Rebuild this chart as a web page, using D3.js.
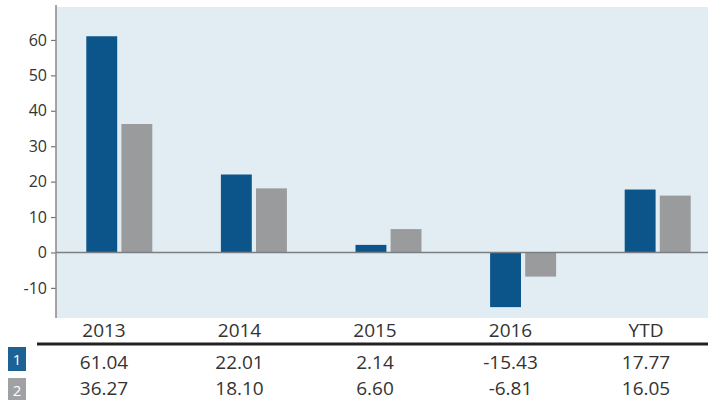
<!DOCTYPE html>
<html>
<head>
<meta charset="utf-8">
<script src="https://cdn.jsdelivr.net/npm/d3@7"></script>
<style>
  body { margin: 0; background: #fff; }
  svg text { font-family: "Open Sans", sans-serif; fill: #333; }
</style>
</head>
<body>
<div id="chart"></div>
<script>
// data
var categories = ["2013", "2014", "2015", "2016", "YTD"]
var seriesNames = ["1", "2"]
var series1 = [61.04, 22.01, 2.14, -15.43, 17.77]
var series2 = [36.27, 18.10, 6.60, -6.81, 16.05]
var yTicks = [-10, 0, 10, 20, 30, 40, 50, 60]

var colors = ["#0c558a", "#9a9b9d"]
var badgeColors = ["#1d6295", "#a0a1a3"]

var width = 708, height = 400
var plotLeft = 56, plotTop = 7, plotBottom = 318

// plain hyphen for negatives, like the original
var fmt = function(v) { return d3.format(".2f")(v).replace("\u2212", "-") }

var svg = d3.select("#chart").append("svg")
  .attr("width", width)
  .attr("height", height)

// plot background
svg.append("rect")
  .attr("x", plotLeft)
  .attr("y", plotTop)
  .attr("width", width - plotLeft)
  .attr("height", plotBottom - plotTop)
  .attr("fill", "#e2ecf3")

var y = d3.scaleLinear()
  .domain([-18.5, 69.3])
  .range([plotBottom, plotTop])

var x = d3.scaleBand()
  .domain(categories)
  .range([52, 725])

var bw = x.bandwidth()
var x1 = d3.scaleBand()
  .domain(seriesNames)
  .range([bw / 2 - 33, bw / 2 + 33])
  .paddingInner(0.12)

var rows = categories.map(function(c, i) {
  return {cat: c, values: [series1[i], series2[i]]}
})

var groups = svg.selectAll(".grp")
  .data(rows)
  .enter().append("g")
  .attr("class", "grp")
  .attr("transform", function(d) { return "translate(" + x(d.cat) + ",0)" })

groups.selectAll("rect")
  .data(function(d) { return d.values.map(function(v, j) { return {v: v, s: seriesNames[j], j: j} }) })
  .enter().append("rect")
  .attr("x", function(d) { return x1(d.s) })
  .attr("width", x1.bandwidth())
  .attr("y", function(d) { return y(Math.max(0, d.v)) })
  .attr("height", function(d) { return Math.abs(y(d.v) - y(0)) })
  .attr("fill", function(d) { return colors[d.j] })

// zero line
svg.append("line")
  .attr("x1", plotLeft).attr("x2", width)
  .attr("y1", y(0)).attr("y2", y(0))
  .attr("stroke", "#7a7f84")
  .attr("stroke-width", 1.5)

// y axis
var yAxis = svg.append("g")
  .attr("transform", "translate(" + plotLeft + ",0)")
  .call(d3.axisLeft(y).tickValues(yTicks).tickSize(5).tickPadding(4).tickSizeOuter(0)
    .tickFormat(function(d) { return String(d) }))

yAxis.select(".domain").remove()
yAxis.append("line")
  .attr("x1", 0).attr("x2", 0)
  .attr("y1", 5).attr("y2", plotBottom)
  .attr("stroke", "#888")
  .attr("stroke-width", 1.5)
yAxis.selectAll(".tick line").attr("stroke", "#777").attr("stroke-width", 1.2)
yAxis.selectAll(".tick text")
  .style("font-size", "16px")
  .style("font-family", "Open Sans, sans-serif")
  .attr("fill", "#333")

// table below
var xt = d3.scalePoint()
  .domain(categories)
  .range([104, 646])

svg.selectAll(".catlabel")
  .data(categories)
  .enter().append("text")
  .attr("class", "catlabel")
  .attr("x", function(d) { return xt(d) })
  .attr("y", 337)
  .attr("text-anchor", "middle")
  .style("font-size", "19px")
  .text(function(d) { return d })

svg.append("line")
  .attr("x1", 37).attr("x2", width)
  .attr("y1", 344).attr("y2", 344)
  .attr("stroke", "#222")
  .attr("stroke-width", 3)

var tableRows = [series1, series2]
tableRows.forEach(function(vals, r) {
  var rowY = 369 + r * 26

  svg.append("rect")
    .attr("x", 8).attr("y", 347 + r * 31)
    .attr("width", 18).attr("height", 24)
    .attr("fill", badgeColors[r])
  svg.append("text")
    .attr("x", 17).attr("y", 365 + r * 31)
    .attr("text-anchor", "middle")
    .style("font-size", "15px")
    .style("fill", "#fff")
    .text(seriesNames[r])

  svg.selectAll(".val" + r)
    .data(vals)
    .enter().append("text")
    .attr("class", "val" + r)
    .attr("x", function(d, i) { return xt(categories[i]) })
    .attr("y", rowY)
    .attr("text-anchor", "middle")
    .style("font-size", "19px")
    .text(function(d) { return fmt(d) })
})
</script>
</body>
</html>
